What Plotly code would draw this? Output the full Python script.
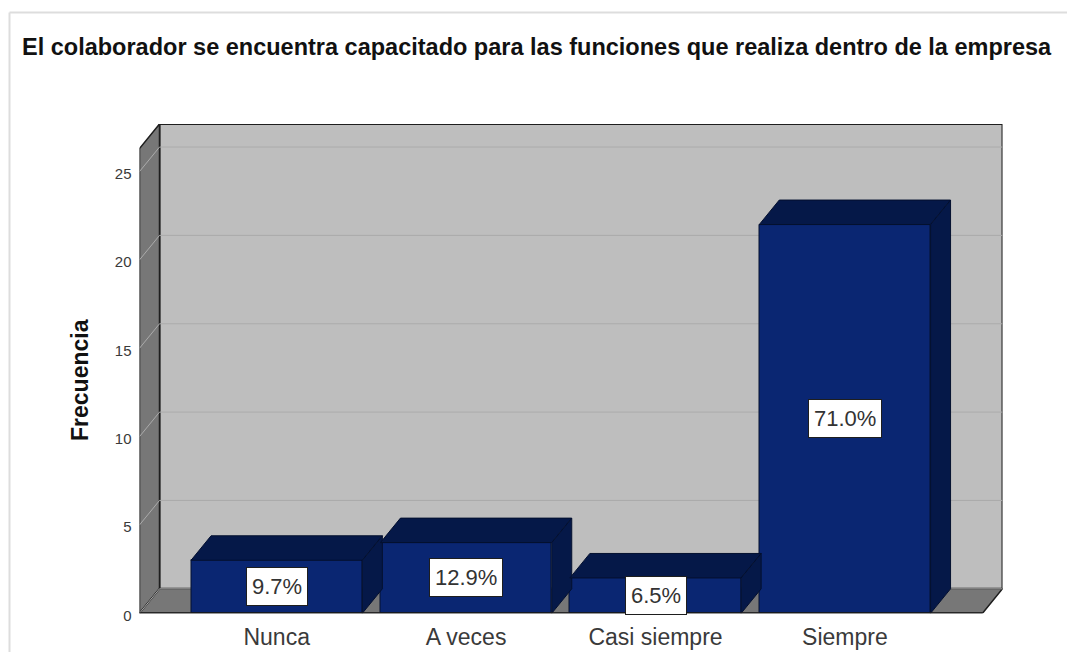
import plotly.graph_objects as go

# Data
categories = ["Nunca", "A veces", "Casi siempre", "Siempre"]
frequencies = [3, 4, 2, 22]
percent_labels = ["9.7%", "12.9%", "6.5%", "71.0%"]
y_ticks = [0, 5, 10, 15, 20, 25]
title_text = "El colaborador se encuentra capacitado para las funciones que realiza dentro de la empresa"
y_title = "Frecuencia"

# Page geometry (pixels)
W, H = 1067, 652
PX_L, PX_R, PX_T, PX_B = 139.5, 1002.5, 124, 613.3
PX_PER_UNIT = 17.67
PX_PER_CAT = 189.4
DX_PX, DY_PX = 20, 24.5
CAT0_PX = 276.7

xmin = (PX_L - CAT0_PX) / PX_PER_CAT
xmax = (PX_R - CAT0_PX) / PX_PER_CAT
ymax = (PX_B - PX_T) / PX_PER_UNIT
dx = DX_PX / PX_PER_CAT
dy = DY_PX / PX_PER_UNIT
bar_w = 171.3 / PX_PER_CAT

FRONT = "#0A2672"
DARK = "#051848"
EDGE = "#04102F"
WALL = "#BEBEBE"
SIDE = "#777777"
GRID = "#ABABAB"
LINE = "#1E1E1E"
FONT = "Liberation Sans"

x_pos = list(range(len(categories)))
fig = go.Figure()


def poly(xs, ys, color, line=None, width=1):
    path = "M " + " L ".join(f"{a},{b}" for a, b in zip(xs, ys)) + " Z"
    fig.add_shape(type="path", path=path, xref="x", yref="y", layer="below",
                  fillcolor=color, line=dict(color=line or color, width=width))


# Walls and floor
poly([xmin + dx, xmax, xmax, xmin + dx], [dy, dy, ymax, ymax], WALL, LINE, 2)
poly([xmin, xmin + dx, xmin + dx, xmin], [0, dy, ymax, ymax - dy], SIDE, LINE, 1.5)
poly([xmin, xmin + dx, xmax, xmax - dx], [0, dy, dy, 0], SIDE, LINE, 1.5)

# Gridlines on the walls
for t in y_ticks:
    fig.add_shape(type="line", xref="x", yref="y", layer="below", x0=xmin, x1=xmin + dx,
                  y0=t, y1=t + dy, line=dict(color=GRID, width=1))
    fig.add_shape(type="line", xref="x", yref="y", layer="below", x0=xmin + dx, x1=xmax,
                  y0=t + dy, y1=t + dy, line=dict(color=GRID, width=1))

# Front faces
fig.add_trace(go.Bar(x=x_pos, y=frequencies, width=bar_w, marker=dict(color=FRONT, line=dict(color=EDGE, width=1)),
                     hoverinfo="skip", showlegend=False))

# Top and side faces, derived from the values
for xc, v in zip(x_pos, frequencies):
    l, r = xc - bar_w / 2, xc + bar_w / 2
    fig.add_trace(go.Scatter(x=[l, l + dx, r + dx, r, l], y=[v, v + dy, v + dy, v, v], mode="lines", fill="toself",
                             fillcolor=DARK, line=dict(color=EDGE, width=1), hoverinfo="skip", showlegend=False))
    fig.add_trace(go.Scatter(x=[r, r + dx, r + dx, r, r], y=[0, dy, v + dy, v, 0], mode="lines", fill="toself",
                             fillcolor=DARK, line=dict(color=EDGE, width=1), hoverinfo="skip", showlegend=False))

# Front axis baseline
fig.add_shape(type="line", xref="x", yref="y", layer="above", x0=xmin, x1=xmax - dx, y0=0, y1=0,
              line=dict(color=LINE, width=2))

# Percent labels
for xc, v, lab in zip(x_pos, frequencies, percent_labels):
    fig.add_annotation(x=xc, y=v / 2, text=lab, showarrow=False, bgcolor="white", bordercolor=LINE, borderwidth=1,
                       borderpad=5, height=27, font=dict(family=FONT, size=22, color="#333333"))

# Y axis title
fig.add_annotation(xref="paper", yref="paper", x=80 / W, y=1 - 380 / H, xanchor="center", yanchor="middle",
                   text=f"<b>{y_title}</b>", textangle=-90, showarrow=False,
                   font=dict(family=FONT, size=23, color="#111111"))

# Outer frame, top and left edges only
fig.add_shape(type="line", xref="paper", yref="paper", x0=9.5 / W, x1=1, y0=1 - 12.5 / H, y1=1 - 12.5 / H,
              line=dict(color="#DDDDDD", width=2))
fig.add_shape(type="line", xref="paper", yref="paper", x0=9.5 / W, x1=9.5 / W, y0=0, y1=1 - 12.5 / H,
              line=dict(color="#DDDDDD", width=2))

fig.update_layout(
    width=W, height=H, autosize=False, paper_bgcolor="white", plot_bgcolor="rgba(0,0,0,0)",
    margin=dict(l=0, r=0, t=0, b=0), showlegend=False, bargap=0,
    title=dict(text=f"<b>{title_text}</b>", x=22 / W, xanchor="left", xref="paper", y=1 - 47 / H, yanchor="middle",
               yref="paper", font=dict(family=FONT, size=23.5, color="#111111")),
    xaxis=dict(domain=[PX_L / W, PX_R / W], range=[xmin, xmax], tickmode="array", tickvals=x_pos, ticktext=categories,
               automargin=False, showgrid=False, zeroline=False, showline=False, ticks="outside", ticklen=3,
               tickcolor="rgba(0,0,0,0)", tickfont=dict(family=FONT, size=23, color="#3A3A3A")),
    yaxis=dict(domain=[1 - PX_B / H, 1 - PX_T / H], range=[0, ymax], tickmode="array", tickvals=y_ticks,
               automargin=False, showgrid=False, zeroline=False, showline=False, ticks="outside", ticklen=4,
               ticklabelshift=2, tickcolor="rgba(0,0,0,0)", tickfont=dict(family=FONT, size=15, color="#3A3A3A")),
)

fig.write_html("out.html", config={"displayModeBar": False},
               post_script="document.body.style.margin='0';document.body.style.overflow='hidden';")
